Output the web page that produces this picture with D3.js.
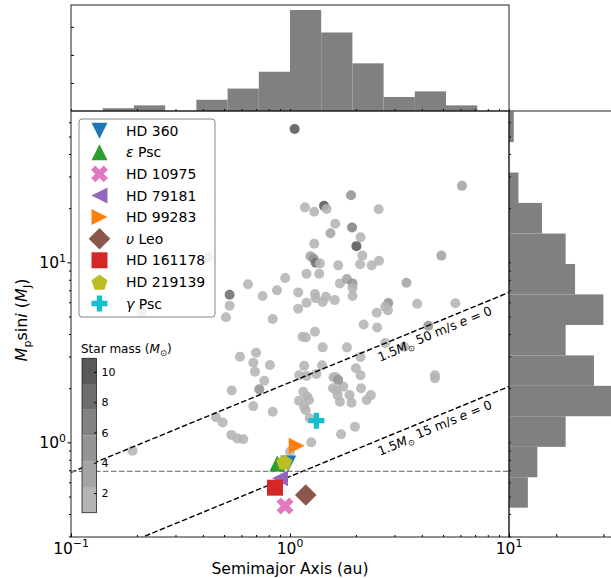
<!DOCTYPE html>
<html>
<head>
<meta charset="utf-8">
<script src="https://cdn.jsdelivr.net/npm/d3@7"></script>
<style>
  body { margin: 0; background: #fff; }
  text { font-family: "DejaVu Sans", sans-serif; }
</style>
</head>
<body>
<div id="chart"></div>
<script>
// planet sample: semimajor axis (au), Mp sin i (MJ), host star mass (Msun)
const semiMajor = [1.05, 1.17, 1.29, 1.43, 1.47, 1.90, 1.61, 1.53, 1.92, 2.10, 2.01, 1.29, 2.14, 2.09, 2.36, 2.54, 2.55,
  1.24, 1.28, 1.31, 1.37, 1.66, 1.19, 1.36, 0.95, 0.643, 0.530, 0.530, 0.510, 0.750, 0.872, 1.09, 1.19, 1.09,
  1.30, 1.31, 1.41, 1.46, 1.60, 1.69, 1.82, 1.93, 1.93, 1.93, 0.834, 2.49, 6.10, 4.91, 3.40, 3.81, 5.69, 2.81,
  2.80, 2.17, 2.50, 4.28, 2.72, 1.82, 2.10, 3.32, 2.00, 2.10, 4.59, 4.59, 2.11, 1.75, 1.87, 2.34, 2.72, 1.30,
  1.14, 1.18, 1.41, 0.591, 0.700, 0.680, 0.810, 0.692, 1.16, 1.40, 1.10, 1.19, 1.32, 1.58, 1.62, 1.66, 0.763,
  0.542, 0.724, 1.15, 1.57, 1.63, 2.24, 1.65, 1.69, 1.91, 1.10, 1.20, 1.22, 0.680, 1.16, 1.18, 0.834, 0.459,
  0.493, 1.23, 1.98, 0.540, 0.575, 0.612, 1.71, 1.25, 1.00, 0.191, 0.424, 0.210];
const minMass = [55, 20.2, 19.1, 20.6, 19.8, 23.6, 16.4, 14.5, 15.6, 13.8, 12.3, 12.7, 10.9, 9.75, 9.62, 19.7, 10.2,
  10.8, 10.5, 9.95, 9.87, 9.62, 8.64, 8.64, 8.18, 7.55, 6.61, 5.74, 4.95, 6.50, 6.99, 6.81, 5.97, 5.53,
  6.67, 6.31, 6.02, 6.44, 6.17, 7.64, 8.08, 7.64, 7.22, 6.50, 4.84, 5.25, 26.6, 10.9, 7.70, 5.89, 5.92, 5.94,
  5.41, 4.52, 4.35, 4.44, 3.56, 3.37, 2.98, 3.40, 2.58, 2.36, 2.36, 2.27, 2.00, 2.04, 1.83, 1.83, 5.67, 4.12,
  3.86, 3.83, 3.37, 2.99, 3.15, 2.77, 2.69, 2.47, 2.66, 2.68, 2.36, 2.34, 2.40, 2.30, 2.30, 2.22, 2.20,
  1.94, 1.97, 1.91, 2.00, 1.95, 1.72, 1.83, 1.68, 1.66, 1.70, 1.79, 1.72, 1.59, 1.58, 1.51, 1.48, 1.38,
  1.29, 1.36, 1.22, 1.10, 1.05, 1.04, 1.11, 1.00, 0.887, 0.898, 10.7, 5.32];
const hostMass = [9.5, 1.5, 1.5, 10.5, 1.5, 4.5, 1.5, 3, 7, 1.5, 10.5, 1.5, 1.5, 1.5, 1.5, 1.5, 1.5,
  3, 5, 8, 1.5, 1.5, 1.5, 1.5, 1.5, 1.5, 8.5, 1.5, 1.5, 1.5, 1.5, 1.5, 1.5, 1.5,
  1.5, 1.5, 1.5, 1.5, 1.5, 1.5, 3, 4.5, 1.5, 1.5, 1.5, 1.5, 3, 3, 3.5, 1.5, 1.5, 5,
  1.5, 1.5, 1.5, 4.5, 1.5, 1.5, 1.5, 1.5, 1.5, 1.5, 1.5, 1.5, 1.5, 1.5, 1.5, 1.5, 1.5, 1.5,
  1.5, 1.5, 1.5, 1.5, 1.5, 1.5, 1.5, 1.5, 1.5, 1.5, 1.5, 1.5, 1.5, 1.5, 1.5, 5, 1.5,
  1.5, 5, 1.5, 1.5, 1.5, 1.5, 1.5, 1.5, 1.5, 1.5, 1.5, 1.5, 1.5, 1.5, 1.5, 1.5, 1.5,
  1.5, 1.5, 1.5, 1.5, 1.5, 1.5, 1.5, 1.5, 1.5, 1.5, 1.5, 1.5];

// highlighted systems
const starNames = ["HD 360", "ε Psc", "HD 10975", "HD 79181", "HD 99283", "υ Leo", "HD 161178", "HD 219139", "γ Psc"];
const starA = [0.982, 0.875, 0.949, 0.900, 1.073, 1.18, 0.854, 0.942, 1.32];
const starM = [0.764, 0.764, 0.443, 0.631, 0.957, 0.510, 0.560, 0.780, 1.32];
const starShapes = ["v", "^", "X", "<", ">", "D", "s", "p", "P"];
const starColors = ["#1f77b4", "#2ca02c", "#e377c2", "#9467bd", "#ff7f0e", "#8c564b", "#d62728", "#bcbd22", "#17becf"];

// marginal histograms (bin edges in log10)
const topLogEdges = [-0.855, -0.7125, -0.57, -0.4275, -0.285, -0.1425, 0, 0.1425, 0.285, 0.4275, 0.57, 0.7125, 0.855];
const topCounts = [1, 2, 0, 4, 8, 14, 36, 28, 17, 5, 7, 2];
const rightLogEdges = [-0.363, -0.194, -0.025, 0.145, 0.314, 0.483, 0.652, 0.822, 0.991, 1.16, 1.33, 1.499, 1.668, 1.838];
const rightCounts = [4, 6, 12, 23, 18, 12, 20, 14, 12, 7, 2, 0, 1];

// RV detection limits
const rvAmplitudes = [50, 15];
const rvStarMass = 1.5;
const refMass = 0.69;

// colour bar
const massBandEdges = [0.7, 2.4, 4.1, 5.8, 7.5, 9.2, 10.9];
const massTicks = [2, 4, 6, 8, 10];
const bandColors = ["#b4b4b4", "#a4a4a4", "#949494", "#828282", "#6e6e6e", "#595959"];

const main = {left: 71, right: 509, top: 111, bottom: 537};
const topBox = {top: 5, bottom: 111};
const rightBox = {left: 509, right: 627};

const svg = d3.select("#chart").append("svg")
  .attr("width", 611)
  .attr("height", 578);

const x = d3.scaleLog().domain([0.1, 10]).range([main.left, main.right]);
const y = d3.scaleLog().domain([0.298, 69.3]).range([main.bottom, main.top]);
const yTop = d3.scaleLinear().domain([0, 37.8]).range([topBox.bottom, topBox.top]);
const xRight = d3.scaleLinear().domain([0, 25]).range([rightBox.left, rightBox.right]);
const massColor = d3.scaleThreshold().domain(massBandEdges.slice(1, -1)).range(bandColors);

const xTicksAll = x.ticks();
const yTicksAll = y.ticks();
const isMajor = v => Math.abs(Math.log10(v) - Math.round(Math.log10(v))) < 1e-6;

svg.append("defs").append("clipPath").attr("id", "mainclip")
  .append("rect")
  .attr("x", main.left).attr("y", main.top)
  .attr("width", main.right - main.left).attr("height", main.bottom - main.top);

// top histogram
svg.append("g").selectAll("rect")
  .data(topCounts)
  .join("rect")
    .attr("x", (d, i) => x(10 ** topLogEdges[i]))
    .attr("width", (d, i) => x(10 ** topLogEdges[i + 1]) - x(10 ** topLogEdges[i]))
    .attr("y", d => yTop(d))
    .attr("height", d => yTop(0) - yTop(d))
    .attr("fill", "#808080");

svg.append("g")
  .attr("transform", `translate(0,${topBox.bottom})`)
  .call(d3.axisBottom(x).tickValues(xTicksAll).tickSize(-2).tickFormat(""))
  .call(g => g.select(".domain").remove());
svg.append("g")
  .attr("transform", `translate(${main.left},0)`)
  .call(d3.axisLeft(yTop).tickValues([10, 20, 30]).tickSize(-3).tickFormat(""))
  .call(g => g.select(".domain").remove());

// right histogram
svg.append("g").selectAll("rect")
  .data(rightCounts)
  .join("rect")
    .attr("x", xRight(0))
    .attr("width", d => xRight(d) - xRight(0))
    .attr("y", (d, i) => y(10 ** rightLogEdges[i + 1]))
    .attr("height", (d, i) => y(10 ** rightLogEdges[i]) - y(10 ** rightLogEdges[i + 1]))
    .attr("fill", "#808080");

svg.append("g")
  .attr("transform", `translate(0,${main.bottom})`)
  .call(d3.axisBottom(xRight).tickValues([10, 20]).tickSize(-3).tickFormat(""))
  .call(g => g.select(".domain").remove());
svg.append("g")
  .attr("transform", `translate(${rightBox.left},0)`)
  .call(d3.axisLeft(y).tickValues(yTicksAll).tickSize(-2).tickFormat(""))
  .call(g => g.select(".domain").remove());

// scatter of the sample
const plot = svg.append("g");
plot.append("g").selectAll("circle")
  .data(semiMajor)
  .join("circle")
    .attr("cx", d => x(d))
    .attr("cy", (d, i) => y(minMass[i]))
    .attr("r", 5)
    .attr("fill", (d, i) => massColor(hostMass[i]))
    .attr("fill-opacity", 0.88);

// RV limit lines and reference mass
const lines = plot.append("g").attr("clip-path", "url(#mainclip)");
rvAmplitudes.forEach(K => {
  const msini = a => K / 28.43 * Math.sqrt(rvStarMass * a);
  lines.append("path")
    .attr("d", d3.line()([[x(0.1), y(msini(0.1))], [x(10), y(msini(10))]]))
    .attr("stroke", "#000")
    .attr("stroke-width", 1.4)
    .attr("stroke-dasharray", "5.5,2.5")
    .attr("fill", "none");

  const ax = 4.4;
  const ang = Math.atan2(y(msini(10)) - y(msini(0.1)), x(10) - x(0.1)) * 180 / Math.PI;
  const t = lines.append("text")
    .attr("transform", `translate(${x(ax)},${y(msini(ax))}) rotate(${ang})`)
    .attr("y", 15)
    .attr("text-anchor", "middle")
    .style("font-size", "12.5px");
  t.append("tspan").text("1.5");
  t.append("tspan").style("font-style", "italic").text("M");
  t.append("tspan").attr("dy", "0.3em").style("font-size", "8.5px").text("⊙");
  t.append("tspan").attr("dy", "-0.3em").text(` ${K} m/s `);
  t.append("tspan").style("font-style", "italic").text("e");
  t.append("tspan").text(" = 0");
});

lines.append("line")
  .attr("x1", main.left).attr("x2", main.right)
  .attr("y1", y(refMass)).attr("y2", y(refMass))
  .attr("stroke", "#808080")
  .attr("stroke-width", 1.2)
  .attr("stroke-dasharray", "5.5,2.5");

// marker shapes
function markerPath(shape, s) {
  const plus = [[-1, -3], [1, -3], [1, -1], [3, -1], [3, 1], [1, 1], [1, 3], [-1, 3], [-1, 1], [-3, 1], [-3, -1], [-1, -1]];
  switch (shape) {
    case "v": return `M${-s},${-s}L${s},${-s}L0,${s}Z`;
    case "^": return `M0,${-s}L${-s},${s}L${s},${s}Z`;
    case "<": return `M${-s},0L${s},${-s}L${s},${s}Z`;
    case ">": return `M${s},0L${-s},${-s}L${-s},${s}Z`;
    case "s": return `M${-s},${-s}H${s}V${s}H${-s}Z`;
    case "D": { const r = s * 1.35; return `M0,${-r}L${r},0L0,${r}L${-r},0Z`; }
    case "p": {
      const r = s * 1.05;
      return "M" + d3.range(5).map(k => {
        const t = -Math.PI / 2 + k * 2 * Math.PI / 5;
        return [r * Math.cos(t), r * Math.sin(t) + 1].join(",");
      }).join("L") + "Z";
    }
    case "P": return "M" + plus.map(p => [p[0] * s / 3, p[1] * s / 3].join(",")).join("L") + "Z";
    case "X": {
      const c = Math.SQRT1_2, k = s / 3 * 1.12;
      return "M" + plus.map(p => [(p[0] - p[1]) * c * k, (p[0] + p[1]) * c * k].join(",")).join("L") + "Z";
    }
  }
}

plot.append("g").selectAll("path")
  .data(starNames)
  .join("path")
    .attr("transform", (d, i) => `translate(${x(starA[i])},${y(starM[i])})`)
    .attr("d", (d, i) => markerPath(starShapes[i], 8))
    .attr("fill", (d, i) => starColors[i]);

// spines
const frame = svg.append("g").attr("fill", "none").attr("stroke", "#222").attr("stroke-width", 1);
frame.append("rect").attr("x", main.left).attr("y", main.top)
  .attr("width", main.right - main.left).attr("height", main.bottom - main.top);
frame.append("rect").attr("x", main.left).attr("y", topBox.top)
  .attr("width", main.right - main.left).attr("height", topBox.bottom - topBox.top);
frame.append("rect").attr("x", rightBox.left).attr("y", main.top)
  .attr("width", rightBox.right - rightBox.left).attr("height", main.bottom - main.top);

// main axes ticks
svg.append("g")
  .attr("transform", `translate(0,${main.bottom})`)
  .call(d3.axisBottom(x).tickValues(xTicksAll).tickSizeInner(0).tickSizeOuter(0).tickFormat(""))
  .call(g => g.select(".domain").remove())
  .call(g => g.selectAll(".tick line").attr("y2", d => isMajor(d) ? -3.5 : -2));
svg.append("g")
  .attr("transform", `translate(${main.left},0)`)
  .call(d3.axisLeft(y).tickValues(yTicksAll).tickSizeOuter(0).tickFormat(""))
  .call(g => g.select(".domain").remove())
  .call(g => g.selectAll(".tick line").attr("x2", d => isMajor(d) ? -3.5 : -2));

function powLabel(g, exp, px, py, anchor, size) {
  const t = g.append("text")
    .attr("x", px).attr("y", py)
    .attr("text-anchor", anchor)
    .style("font-size", size + "px");
  t.append("tspan").text("10");
  t.append("tspan").attr("dy", -size * 0.42).style("font-size", (size * 0.7) + "px")
    .text(exp < 0 ? "−" + (-exp) : exp);
}
const labels = svg.append("g").attr("fill", "#000");
[0.1, 1, 10].forEach(v => powLabel(labels, Math.round(Math.log10(v)), x(v), 554, "middle", 15.5));
[1, 10].forEach(v => powLabel(labels, Math.round(Math.log10(v)), 66, y(v) + 6, "end", 15.5));

svg.append("text")
  .attr("x", x(1))
  .attr("y", 574)
  .attr("text-anchor", "middle")
  .style("font-size", "15.5px")
  .text("Semimajor Axis (au)");

const yl = svg.append("text")
  .attr("transform", `translate(27,${(main.top + main.bottom) / 2 - 4}) rotate(-90)`)
  .attr("text-anchor", "middle")
  .style("font-size", "16px");
yl.append("tspan").style("font-style", "italic").text("M");
yl.append("tspan").attr("dy", 4).style("font-size", "11px").text("p");
yl.append("tspan").attr("dy", -4).text("sin");
yl.append("tspan").style("font-style", "italic").text("i");
yl.append("tspan").text(" (");
yl.append("tspan").style("font-style", "italic").text("M");
yl.append("tspan").attr("dy", 4).style("font-size", "11px").text("J");
yl.append("tspan").attr("dy", -4).text(")");

// legend
const legend = svg.append("g");
legend.append("rect")
  .attr("x", 79).attr("y", 119)
  .attr("width", 136).attr("height", 198)
  .attr("rx", 3)
  .attr("fill", "#fff").attr("fill-opacity", 0.8)
  .attr("stroke", "#666").attr("stroke-width", 0.8);
const rows = legend.selectAll("g.row")
  .data(starNames)
  .join("g")
    .attr("class", "row")
    .attr("transform", (d, i) => `translate(99.5,${130.7 + i * 21.6})`);
rows.append("path")
  .attr("d", (d, i) => markerPath(starShapes[i], 8))
  .attr("fill", (d, i) => starColors[i]);
rows.each(function(d) {
  const t = d3.select(this).append("text")
    .attr("x", 26.5).attr("y", 5)
    .style("font-size", "14px");
  const m = d.match(/^([εγυ]) (.*)$/);
  if (m) {
    t.append("tspan").style("font-style", "italic").text(m[1]);
    t.append("tspan").text(" " + m[2]);
  } else {
    t.text(d);
  }
});

// colour bar
const cb = {x: 82, w: 14.5};
const yCb = d3.scaleLinear().domain([massBandEdges[0], massBandEdges[massBandEdges.length - 1]]).range([512.7, 358.3]);
const cbar = svg.append("g");
cbar.selectAll("rect")
  .data(bandColors)
  .join("rect")
    .attr("x", cb.x)
    .attr("width", cb.w)
    .attr("y", (d, i) => yCb(massBandEdges[i + 1]))
    .attr("height", (d, i) => yCb(massBandEdges[i]) - yCb(massBandEdges[i + 1]))
    .attr("fill", d => d);
cbar.append("rect")
  .attr("x", cb.x).attr("y", yCb.range()[1])
  .attr("width", cb.w).attr("height", yCb.range()[0] - yCb.range()[1])
  .attr("fill", "none").attr("stroke", "#222").attr("stroke-width", 0.8);
cbar.append("g")
  .attr("transform", `translate(${cb.x + cb.w},0)`)
  .call(d3.axisRight(yCb).tickValues(massTicks).tickSize(-2.5).tickPadding(5))
  .call(g => g.select(".domain").remove())
  .call(g => g.selectAll("text").style("font-size", "11px").style("font-family", "DejaVu Sans"));
const cl = cbar.append("text")
  .attr("x", 81).attr("y", 353)
  .style("font-size", "12px");
cl.append("tspan").text("Star mass (");
cl.append("tspan").style("font-style", "italic").text("M");
cl.append("tspan").attr("dy", 3).style("font-size", "8.5px").text("⊙");
cl.append("tspan").attr("dy", -3).text(")");
</script>
</body>
</html>
